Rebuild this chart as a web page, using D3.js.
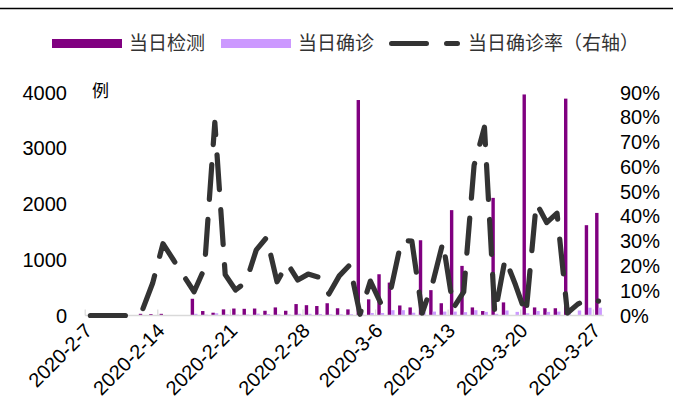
<!DOCTYPE html>
<html>
<head>
<meta charset="utf-8">
<script src="https://cdn.jsdelivr.net/npm/d3@7/dist/d3.min.js"></script>
<style>
  html, body { margin: 0; padding: 0; background: #fff; }
  svg { display: block; }
  text { font-family: "Liberation Sans", Arial, "Noto Sans CJK SC", sans-serif; }
  .cjk { font-family: "Noto Sans CJK SC", "Liberation Sans", sans-serif; }
</style>
</head>
<body>
<svg id="chart" width="673" height="419"></svg>
<script>
// Daily dates, 2020-2-7 .. 2020-3-27
const dates = [
  "2020-2-7","2020-2-8","2020-2-9","2020-2-10","2020-2-11","2020-2-12","2020-2-13",
  "2020-2-14","2020-2-15","2020-2-16","2020-2-17","2020-2-18","2020-2-19","2020-2-20",
  "2020-2-21","2020-2-22","2020-2-23","2020-2-24","2020-2-25","2020-2-26","2020-2-27",
  "2020-2-28","2020-2-29","2020-3-1","2020-3-2","2020-3-3","2020-3-4","2020-3-5",
  "2020-3-6","2020-3-7","2020-3-8","2020-3-9","2020-3-10","2020-3-11","2020-3-12",
  "2020-3-13","2020-3-14","2020-3-15","2020-3-16","2020-3-17","2020-3-18","2020-3-19",
  "2020-3-20","2020-3-21","2020-3-22","2020-3-23","2020-3-24","2020-3-25","2020-3-26",
  "2020-3-27"
];

// 当日检测 (cases tested per day)
const tested = [
  0, 0, 0, 0, 0, 30, 25, 30, 8, 6,
  300, 80, 50, 110, 125, 120, 125, 85, 145, 85,
  205, 185, 170, 220, 130, 110, 3865, 290, 740, 590,
  180, 145, 1350, 455, 220, 1890, 890, 145, 80, 2110,
  235, 0, 3965, 145, 130, 130, 3890, 0, 1620, 1840
];

// 当日确诊 (confirmed per day)
const confirmed = [
  0, 0, 0, 0, 0, 1, 3, 9, 2, 1,
  30, 15, 40, 20, 15, 17, 33, 27, 20, 18,
  30, 30, 27, 20, 20, 22, 60, 45, 45, 95,
  95, 50, 60, 70, 70, 70, 60, 95, 65, 30,
  90, 65, 40, 80, 65, 70, 60, 90, 140, 140
];

// 当日确诊率 (%), right axis
const ratePct = [
  0, 0, 0, 0, 0, 2, 13, 29, 22.5, 16,
  9.6, 19, 78, 16.5, 10.3, 13.5, 26.5, 31.5, 13.6, 21,
  14.3, 16.7, 15.5, 8.7, 16, 20.4, 0.5, 13.9, 5, 11,
  30.4, 30, 1, 13, 29.6, 3, 9.5, 60.6, 76, 0.5,
  23, 12.3, 0.5, 45.4, 37.5, 41.3, 1, 4.6, 6.7, 5.8
];

const leftTicks = [0, 1000, 2000, 3000, 4000];
const rightTicks = [0, 10, 20, 30, 40, 50, 60, 70, 80, 90];
const labelDates = dates.filter((d, i) => i % 7 === 0);

const svg = d3.select("#chart");
const colTest = "#800080", colConf = "#CC99FF", colLine = "#333333";

const plot = { left: 85.2, right: 603.7, top: 92.5, bottom: 315.5 };

const x = d3.scaleBand().domain(dates).range([plot.left, plot.right]).padding(0);
const yL = d3.scaleLinear().domain([0, 4000]).range([plot.bottom, plot.top]);
const yR = d3.scaleLinear().domain([0, 90]).range([plot.bottom, plot.top]);
const bw = x.bandwidth();
const barW = 3.4;
const xc = d => x(d) + bw / 2;

// top rule
svg.append("line").attr("x1", 0).attr("x2", 673).attr("y1", 8.5).attr("y2", 8.5)
  .attr("stroke", "#000").attr("stroke-width", 1.6);

// bars
svg.append("g").selectAll("rect").data(dates).join("rect")
  .attr("x", d => xc(d) - barW).attr("width", barW)
  .attr("y", (d, i) => yL(tested[i])).attr("height", (d, i) => yL(0) - yL(tested[i]))
  .attr("fill", colTest);
svg.append("g").selectAll("rect").data(dates).join("rect")
  .attr("x", d => xc(d)).attr("width", barW)
  .attr("y", (d, i) => yL(confirmed[i])).attr("height", (d, i) => yL(0) - yL(confirmed[i]))
  .attr("fill", colConf);

// category axis line and tick marks every 7 days
svg.append("line").attr("x1", plot.left).attr("x2", plot.right)
  .attr("y1", plot.bottom).attr("y2", plot.bottom)
  .attr("stroke", "#d9d9d9").attr("stroke-width", 1.5);
svg.append("g").selectAll("line").data(labelDates).join("line")
  .attr("x1", d => x(d)).attr("x2", d => x(d))
  .attr("y1", plot.bottom).attr("y2", plot.bottom - 6)
  .attr("stroke", "#d9d9d9").attr("stroke-width", 1.2);

// rate line
const line = d3.line().x(d => xc(d)).y((d, i) => yR(ratePct[i]));
svg.append("path").datum(dates).attr("d", line)
  .attr("fill", "none").attr("stroke", colLine).attr("stroke-width", 5.2)
  .attr("stroke-linecap", "round").attr("stroke-linejoin", "round")
  .attr("stroke-dasharray", "35,20");

// left axis labels
svg.append("g").selectAll("text").data(leftTicks).join("text")
  .attr("x", 67).attr("y", d => yL(d)).attr("dy", "0.35em")
  .attr("text-anchor", "end").attr("font-size", 20).attr("fill", "#000")
  .text(d => d);
svg.append("text").attr("class", "cjk").attr("x", 92).attr("y", 91).attr("dy", "0.35em")
  .attr("font-size", 17).attr("fill", "#000").text("例");

// right axis labels
svg.append("g").selectAll("text").data(rightTicks).join("text")
  .attr("x", 620).attr("y", d => yR(d)).attr("dy", "0.35em")
  .attr("text-anchor", "start").attr("font-size", 20).attr("fill", "#000")
  .text(d => d + "%");

// date labels
svg.append("g").selectAll("text").data(labelDates).join("text")
  .attr("transform", d => `translate(${xc(d) + 3},${332}) rotate(-45)`)
  .attr("text-anchor", "end").attr("font-size", 20).attr("fill", "#000")
  .text(d => d);

// legend
const lg = svg.append("g");
lg.append("rect").attr("x", 52).attr("y", 39).attr("width", 70).attr("height", 9).attr("fill", colTest);
lg.append("text").attr("class", "cjk").attr("x", 129).attr("y", 43.5).attr("dy", "0.35em")
  .attr("font-size", 19).attr("fill", "#333").text("当日检测");
lg.append("rect").attr("x", 221).attr("y", 39).attr("width", 70).attr("height", 9).attr("fill", colConf);
lg.append("text").attr("class", "cjk").attr("x", 298).attr("y", 43.5).attr("dy", "0.35em")
  .attr("font-size", 19).attr("fill", "#333").text("当日确诊");
lg.append("line").attr("x1", 391.5).attr("x2", 457.5).attr("y1", 43.5).attr("y2", 43.5)
  .attr("stroke", colLine).attr("stroke-width", 5).attr("stroke-linecap", "round")
  .attr("stroke-dasharray", "35,20");
lg.append("text").attr("class", "cjk").attr("x", 468).attr("y", 43.5).attr("dy", "0.35em")
  .attr("font-size", 19).attr("fill", "#333").text("当日确诊率（右轴）");
</script>
</body>
</html>
